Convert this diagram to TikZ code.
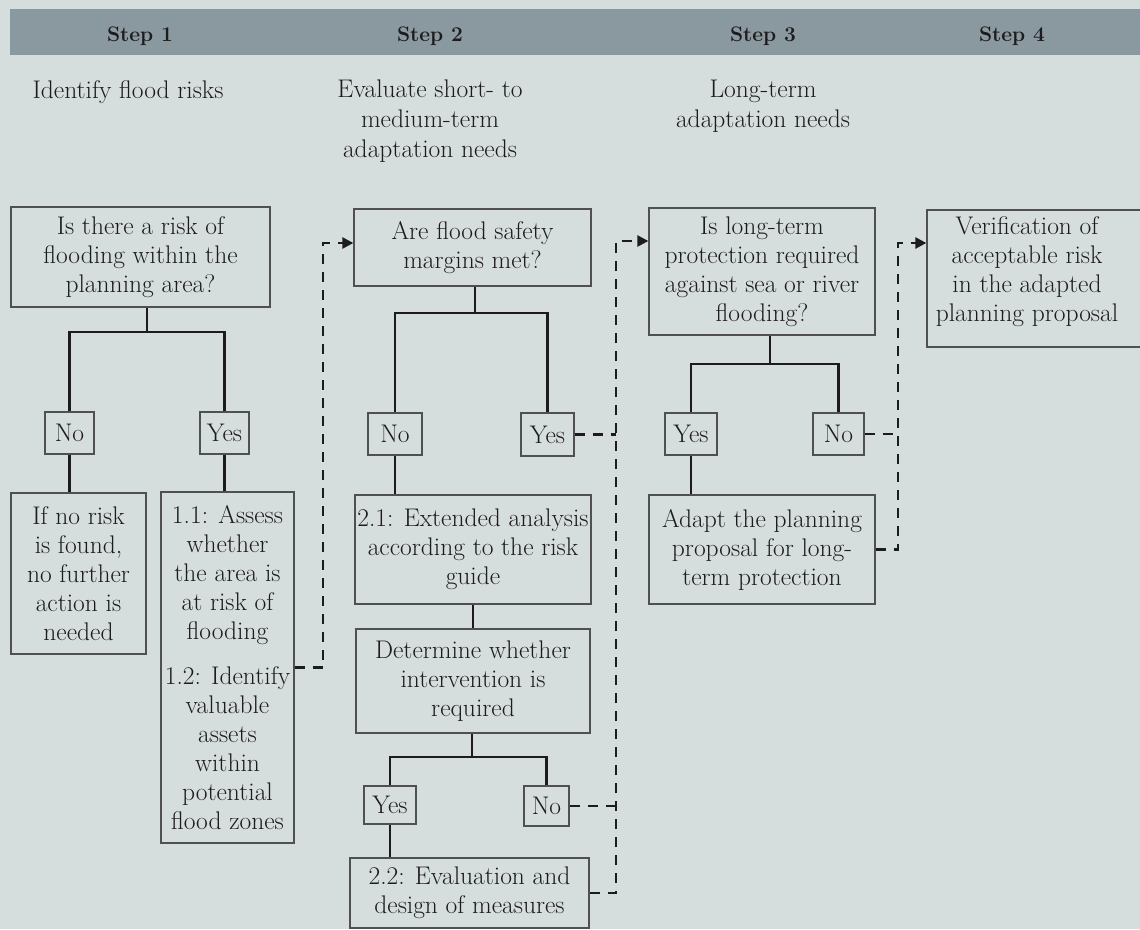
\documentclass[tikz,border=0pt]{standalone}
\usepackage{fontspec}
\usetikzlibrary{arrows.meta}
\definecolor{bg}{HTML}{D6DDDD}
\definecolor{head}{HTML}{8A989F}
\definecolor{ink}{HTML}{1E1B1C}
\definecolor{edge}{HTML}{505050}
\tikzset{
 box/.style={draw=edge, line width=1.3pt, inner sep=0pt, align=center, font=\fontsize{25.5}{29}\selectfont, text=ink},
 txt/.style={inner sep=0pt, align=center, font=\fontsize{25.5}{29}\selectfont, text=ink},
 conn/.style={draw=ink, line width=2.6pt},
 dconn/.style={draw=ink, line width=2.4pt, dash pattern=on 10pt off 8pt},
 tip/.style={-{Triangle[length=11pt,width=11pt]}},
 headtxt/.style={font=\fontsize{21}{24}\selectfont\bfseries, text=ink, anchor=base, inner sep=0pt},
 subtxt/.style={font=\fontsize{25.5}{30}\selectfont, text=ink, align=center, anchor=north, inner sep=0pt},
}
\begin{document}
\begin{tikzpicture}[x=1pt,y=-1pt]
\useasboundingbox (0,0) rectangle (1140,929);
\fill[bg] (0,0) rectangle (1140,929);
\clip (0,0) rectangle (1140,929);
\fill[head] (10,9) rectangle (1140,55);
\node[headtxt] (h1) at (140,41) {Step 1};
\node[headtxt] (h2) at (430,41) {Step 2};
\node[headtxt] (h3) at (763,41) {Step 3};
\node[headtxt] (h4) at (1012,41) {Step 4};
\node[subtxt] (t1) at (128,80) {Identify flood risks};
\node[subtxt] (t2) at (430,80) {Evaluate short- to\\medium-term\\adaptation needs};
\node[subtxt] (t3) at (763,80) {Long-term\\adaptation needs};
% step 1
\node[box, minimum width=259pt, minimum height=100pt] (q1) at (140.5,257) {Is there a risk of\\flooding within the\\planning area?};
\node[box, minimum width=49pt, minimum height=42pt] (no1) at (69.5,433) {No};
\node[box, minimum width=49pt, minimum height=42pt] (yes1) at (224.5,433) {Yes};
\node[box, minimum width=135pt, minimum height=161pt] (r1) at (78.5,573.5) {If no risk\\is found,\\no further\\action is\\needed};
\node[box, minimum width=133pt, minimum height=351pt] (b11) at (227.5,667.5) {1.1: Assess\\whether\\the area is\\at risk of\\flooding\\[16pt]1.2: Identify\\valuable\\assets\\within\\potential\\flood zones};
% step 2
\node[box, minimum width=237pt, minimum height=77pt] (q2) at (472.5,247.5) {Are flood safety\\margins met?};
\node[box, minimum width=54pt, minimum height=42pt] (no2) at (395,434) {No};
\node[box, minimum width=53pt, minimum height=43pt] (yes2) at (547.5,434.5) {Yes};
\node[box, minimum width=236pt, minimum height=109pt] (b21) at (473,549.5) {2.1: Extended analysis\\according to the risk\\guide};
\node[box, minimum width=234pt, minimum height=104pt] (det) at (473,681) {Determine whether\\intervention is\\required};
\node[box, minimum width=52pt, minimum height=38pt] (yes22) at (390,805) {Yes};
\node[box, minimum width=45pt, minimum height=40pt] (no22) at (546.5,806) {No};
\node[box, minimum width=239pt, minimum height=70pt] (b22) at (469.5,893) {2.2: Evaluation and\\design of measures};
% step 3
\node[box, minimum width=226pt, minimum height=127pt] (q3) at (762,271.5) {Is long-term\\protection required\\against sea or river\\flooding?};
\node[box, minimum width=52pt, minimum height=42pt] (yes3) at (691,434) {Yes};
\node[box, minimum width=51pt, minimum height=42pt] (no3) at (838.5,434) {No};
\node[box, minimum width=226pt, minimum height=109pt] (b3) at (762,549.5) {Adapt the planning\\proposal for long-\\term protection};
% step 4
\node[box, minimum width=223pt, minimum height=137pt] (s4) at (1038.5,278.5) {};
\node[txt] (s4t) at (1027,272) {Verification of\\acceptable risk\\in the adapted\\planning proposal};
% solid connectors
\coordinate (j1) at (147,332);
\draw[conn] (q1.south -| j1) -- (j1);
\draw[conn] (no1.north) |- (j1) -| (yes1.north);
\draw[conn] (no1.south) -- (no1.south |- r1.north);
\draw[conn] (yes1.south) -- (yes1.south |- b11.north);
\coordinate (j2) at (475,313);
\draw[conn] (q2.south -| j2) -- (j2);
\draw[conn] (no2.north) |- (j2) -| (yes2.north);
\draw[conn] (no2.south) -- (no2.south |- b21.north);
\draw[conn] (b21.south) -- (det.north);
\coordinate (j3) at (472,757);
\draw[conn] (det.south -| j3) -- (j3);
\draw[conn] (yes22.north) |- (j3) -| (no22.north);
\draw[conn] (yes22.south) -- (yes22.south |- b22.north);
\coordinate (j4) at (770,364);
\draw[conn] (q3.south -| j4) -- (j4);
\draw[conn] (yes3.north) |- (j4) -| (no3.north);
\draw[conn] (yes3.south) -- (yes3.south |- b3.north);
% dashed connectors
\coordinate (c1) at (323,243);
\draw[dconn,tip] (b11.east) -| (c1) -- (q2.west |- c1);
\coordinate (c2) at (616,241);
\draw[dconn,tip] (b22.east) -| (c2) -- (q3.west |- c2);
\draw[dconn] (yes2.east) -- (yes2.east -| c2);
\draw[dconn] (no22.east) -- (no22.east -| c2);
\coordinate (c3) at (898,243);
\draw[dconn,tip] (b3.east) -| (c3) -- (s4.west |- c3);
\draw[dconn] (no3.east) -- (no3.east -| c3);
\end{tikzpicture}
\end{document}
